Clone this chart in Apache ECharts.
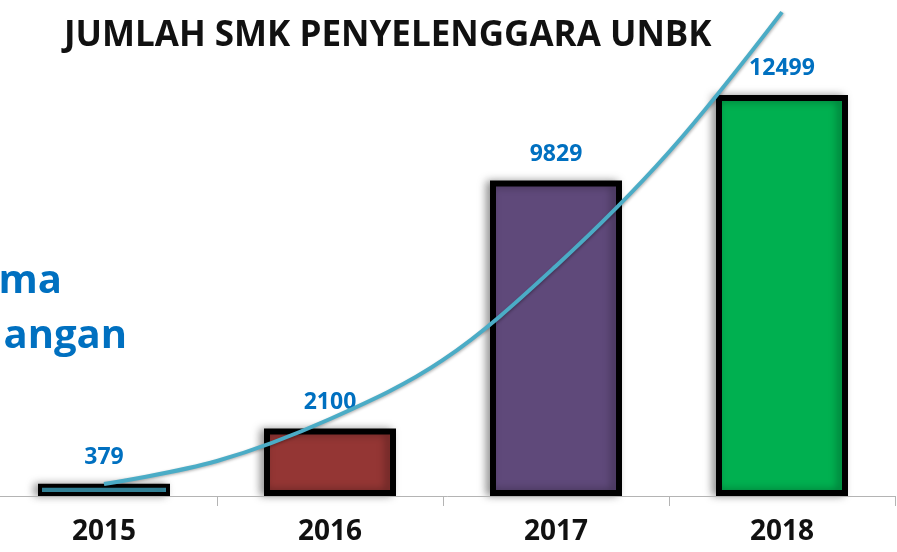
<!DOCTYPE html>
<html>
<head>
<meta charset="utf-8">
<script src="https://cdn.jsdelivr.net/npm/echarts@6/dist/echarts.min.js"></script>
<style>
  html, body { margin: 0; padding: 0; background: #ffffff; }
  #chart { width: 897px; height: 552px; }
</style>
</head>
<body>
<div id="chart"></div>
<script>
// Number of vocational schools (SMK) running computer-based national exams, per year
const years = ['2015', '2016', '2017', '2018'];
const schoolCounts = [379, 2100, 9829, 12499];
const barColors = ['#3b9ab3', '#943634', '#5f497a', '#00b050'];

// Growth trend curve, sampled at category centres and midpoints (x in category units)
const trendX = [0, 0.5, 1, 1.5, 2, 2.5, 3];
const trendY = [375, 1090, 2400, 4240, 7170, 10720, 15080];

const titleText = 'JUMLAH SMK PENYELENGGARA UNBK';
const sideTextTop = 'ma';
const sideTextBottom = 'angan';

const chart = echarts.init(document.getElementById('chart'), null, { renderer: 'canvas' });

const labelBlue = '#0070c0';
const font = '"Open Sans", "Noto Sans", sans-serif';

chart.setOption({
  animation: false,
  backgroundColor: '#ffffff',
  title: {
    text: titleText,
    left: 59,
    top: 14,
    textStyle: { fontFamily: font, fontWeight: 'bold', fontSize: 35, color: '#111111' }
  },
  graphic: [
    {
      type: 'text', right: 897 - 62, top: 262,
      style: { text: sideTextTop, fill: labelBlue, font: 'bold 40px ' + font, textAlign: 'right' }
    },
    {
      type: 'text', right: 897 - 127, top: 317,
      style: { text: sideTextBottom, fill: labelBlue, font: 'bold 40px ' + font, textAlign: 'right' }
    }
  ],
  grid: {
    left: -9, right: 2, top: 2.5, bottom: 56,
    containLabel: false,
    outerBoundsMode: 'none'
  },
  xAxis: [
    {
      type: 'category',
      data: years,
      boundaryGap: true,
      axisLine: { show: true, lineStyle: { color: '#b4b4b4', width: 1 } },
      axisTick: { show: true, length: 10, lineStyle: { color: '#b4b4b4' } },
      axisLabel: {
        color: '#111111', fontFamily: font, fontWeight: 'bold', fontSize: 28, margin: 22
      },
      z: 10
    },
    { type: 'value', min: -0.5, max: 3.5, show: false }
  ],
  yAxis: { type: 'value', min: 0, max: 15380, show: false, splitLine: { show: false } },
  series: [
    {
      type: 'bar',
      barWidth: 132,
      data: schoolCounts.map((v, i) => ({
        value: v,
        itemStyle: { color: barColors[i], borderWidth: i === 0 ? 4 : 6 }
      })),
      itemStyle: {
        borderColor: '#000000',
        borderWidth: 6,
        shadowColor: 'rgba(0,0,0,0.35)',
        shadowBlur: 8,
        shadowOffsetX: -4
      },
      label: {
        show: true,
        position: 'top',
        distance: 15,
        color: labelBlue,
        fontFamily: font,
        fontWeight: 'bold',
        fontSize: 23
      },
      z: 2
    },
    {
      type: 'line',
      xAxisIndex: 1,
      data: trendX.map((x, i) => [x, trendY[i]]),
      smooth: 0.35,
      symbol: 'none',
      clip: false,
      lineStyle: {
        color: '#4bacc6',
        width: 4,
        shadowColor: 'rgba(0,0,0,0.3)',
        shadowBlur: 3,
        shadowOffsetX: 1,
        shadowOffsetY: 1
      },
      z: 5
    }
  ]
});
</script>
</body>
</html>
